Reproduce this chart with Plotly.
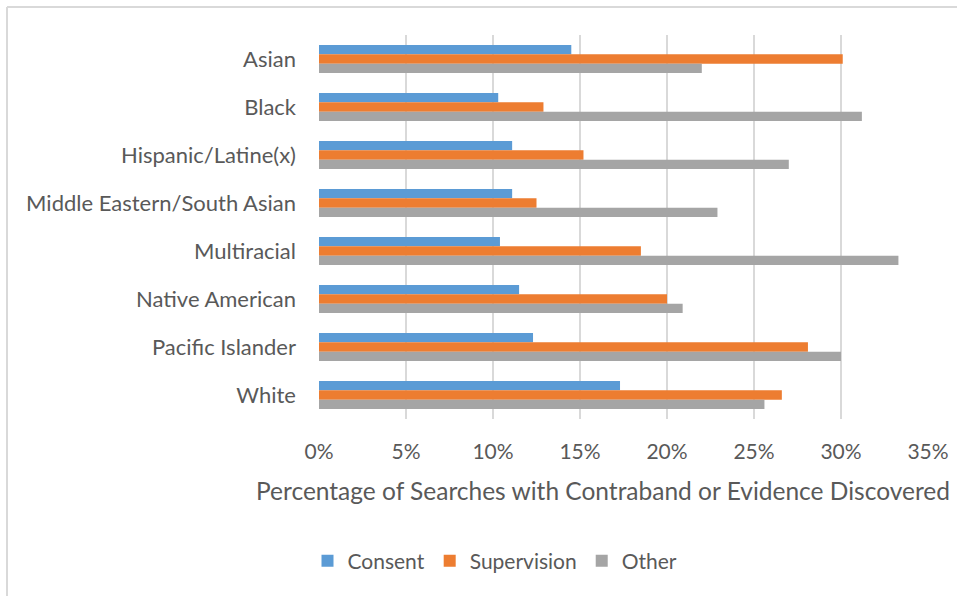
import plotly.graph_objects as go

categories = ["Asian", "Black", "Hispanic/Latine(x)", "Middle Eastern/South Asian",
              "Multiracial", "Native American", "Pacific Islander", "White"]
consent = [14.5, 10.3, 11.1, 11.1, 10.4, 11.5, 12.3, 17.3]
supervision = [30.1, 12.9, 15.2, 12.5, 18.5, 20.0, 28.1, 26.6]
other = [22.0, 31.2, 27.0, 22.9, 33.3, 20.9, 30.0, 25.6]
tick_vals = [0, 5, 10, 15, 20, 25, 30, 35]
tick_text = ["0%", "5%", "10%", "15%", "20%", "25%", "30%", "35%"]
x_title = "Percentage of Searches with Contraband or Evidence Discovered"

W, H = 957, 596
L, R, T, B = 319, 928, 35, 419

fig = go.Figure()
for name, vals, col in [("Consent", consent, "#5B9BD5"),
                        ("Supervision", supervision, "#ED7D31"),
                        ("Other", other, "#A5A5A5")]:
    fig.add_trace(go.Bar(y=categories, x=vals, name=name, orientation="h",
                         marker=dict(color=col, line=dict(width=0))))

def px_x(p):
    return (p - L) / (R - L)

def px_y(p):
    return (B - p) / (B - T)

fig.update_layout(
    width=W, height=H,
    margin=dict(l=L, r=W - R, t=T, b=H - B, autoexpand=False),
    paper_bgcolor="white", plot_bgcolor="white",
    barmode="group", bargap=0.42, bargroupgap=0,
    font=dict(family="Lato, sans-serif", color="#595959", size=21.5),
    xaxis=dict(range=[0, 35], tickvals=tick_vals, ticktext=tick_text,
               showgrid=True, gridcolor="#D9D9D9", gridwidth=2,
               zeroline=False, showline=False, ticks="",
               tickfont=dict(size=21), ticklabelstandoff=18),
    yaxis=dict(autorange="reversed", showgrid=False, zeroline=False, showline=False,
               ticks="", tickfont=dict(size=22), ticklabelstandoff=22),
    legend=dict(orientation="h", xref="container", yref="container",
                x=495 / W, xanchor="center", y=1 - 561 / H, yanchor="middle",
                font=dict(size=21), itemwidth=30, traceorder="normal"),
    annotations=[dict(text=x_title, xref="paper", yref="paper",
                      x=px_x(603), y=px_y(490), xanchor="center", yanchor="middle",
                      showarrow=False, font=dict(size=24.5, color="#595959"))],
    shapes=[
        dict(type="line", xref="paper", yref="paper", x0=px_x(7), x1=px_x(7),
             y0=px_y(600), y1=px_y(7), line=dict(color="#D9D9D9", width=2)),
        dict(type="line", xref="paper", yref="paper", x0=px_x(7), x1=px_x(960),
             y0=px_y(7), y1=px_y(7), line=dict(color="#D9D9D9", width=2)),
    ],
)

fig.write_html("out.html", config={"displayModeBar": False},
               post_script="document.body.style.margin='0px';")
